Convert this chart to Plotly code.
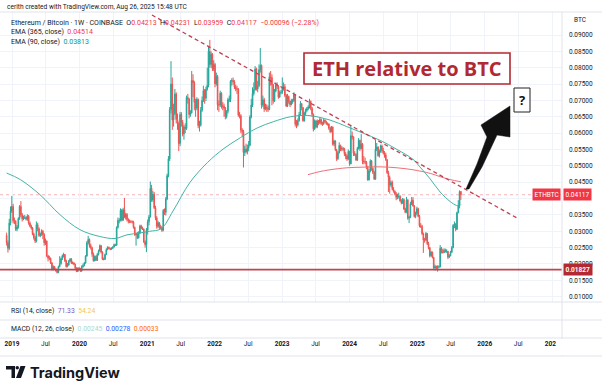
import plotly.graph_objects as go
import pandas as pd

W, H = 602, 385

# ---------------- data (weekly ETH/BTC, units of 1e-5 BTC) ----------------
first_week = "2018-12-03"
first_open = 2870
close = [
    2650, 2480, 3250, 3620, 3760,
    3320, 3300, 3060, 3130, 3390, 3760, 3500, 3380, 3420, 3420, 3370, 3460,
    3250, 3160, 3100, 2920, 2800, 2700, 3200, 3080, 2870, 2900, 3000, 2900, 2650,
    2700, 2250, 2180, 2170, 2030, 1830, 1920, 1840, 1800, 1740, 1920, 2010, 2160, 2250,
    2290, 2100, 1920, 1970, 2090, 2150, 2030, 2030, 1990, 1870, 1770, 1870, 1860,
    1780, 1910, 1950, 2030, 2240, 2650, 2750, 2560, 2500, 2310, 2100, 2230, 2110,
    2290, 2400, 2560, 2360, 2150, 2140, 2290, 2440, 2510, 2480, 2450, 2480, 2520,
    2590, 2570, 3120, 3330, 3330, 3640, 3340, 3660, 3430, 3510, 3360, 3310, 3290,
    3290, 3290, 3120, 2890, 2930, 2800, 2940, 3160, 3100, 3070, 2680, 2590, 3030,
    3290, 3440, 4310, 3960, 4130, 3720, 3410, 3150, 3260, 3120, 3120, 3030, 3640,
    3580, 3990, 4700, 5210, 6720, 7500, 6400, 6600, 7200, 6420, 6290, 5680, 6570,
    6330, 5970, 6190, 6140, 7090, 7040, 6570, 6620, 7610, 7540, 6940, 6760, 7030,
    6230, 6240, 6700, 7000, 7300, 7070, 7340, 7460, 8500, 8100, 8410, 7970, 8100,
    7510, 7730, 6870, 6860, 7220, 6840, 6820, 6760, 6510, 6670, 7020, 7030, 7590,
    7610, 7570, 7410, 7350, 7350, 6550, 6530, 6090, 6050, 5410, 5510, 5430, 5540,
    5630, 6490, 6860, 7210, 7330, 7960, 7350, 7450, 7940, 8070, 6860, 7020, 6740,
    6800, 6770, 6720, 7720, 7700, 7480, 6990, 7290, 7480, 7430, 7100, 7240, 7250,
    7380, 7420, 7150, 6830, 7120, 6970, 6870, 6980, 6990, 7180, 6270, 6250, 6380,
    6570, 6900, 6780, 6380, 6600, 6690, 6750, 6800, 6970, 6760, 6580, 6130, 6370,
    6190, 6370, 6320, 6420, 6290, 6290, 6400, 6350, 6290, 6280, 6150, 6050, 6190,
    5660, 5760, 5490, 5220, 5400, 5620, 5510, 5530, 5510, 5370, 5300, 5210, 5440,
    5060, 5920, 5890, 5380, 5350, 5180, 5530, 5780, 5530, 5660, 5150, 5130, 5110,
    4970, 4570, 4840, 5150, 4920, 4800, 4590, 5510, 5570, 5310, 5440, 5610, 5470,
    5400, 5330, 5190, 4790, 4650, 4410, 4490, 4280, 4220, 4140, 4040, 4070, 4070, 3930,
    3860, 3970, 3680, 3580, 3960, 3400, 3430, 3840, 3950, 3780, 3450, 3550, 3690,
    3460, 3170, 3150, 2930, 2730, 2730, 2930, 2620, 2500, 2250, 2360, 2200, 1880,
    1930, 1870, 1900, 1910, 2480, 2360, 2350, 2420, 2380, 2390, 2210, 2250, 2360,
    2500, 3180, 3210, 3060, 3570, 3800, 4213, 4117,
]
high = [
    2960, 2720, 3380, 3760, 4080,
    3840, 3420, 3340, 3190, 3430, 3800, 3920, 3560, 3480, 3500, 3460, 3520,
    3500, 3300, 3200, 3130, 2960, 2860, 3300, 3260, 3120, 2960, 3060, 3040, 2940,
    2780, 2720, 2280, 2250, 2200, 2060, 1960, 1940, 1870, 1830, 1950, 2240, 2200, 2290,
    2340, 2300, 2130, 2030, 2120, 2180, 2180, 2080, 2060, 2010, 1900, 1900, 1910,
    1880, 1960, 2010, 2060, 2270, 2700, 2860, 2780, 2620, 2530, 2350, 2260, 2260,
    2330, 2440, 2600, 2580, 2390, 2200, 2320, 2480, 2540, 2530, 2500, 2510, 2540,
    2620, 2620, 3150, 3420, 3400, 3700, 3680, 3720, 4020, 3560, 3560, 3400, 3360,
    3340, 3330, 3320, 3140, 2960, 2980, 3000, 3200, 3200, 3140, 3080, 2720, 3100,
    3360, 3500, 4520, 4420, 4230, 4200, 3780, 3460, 3320, 3280, 3200, 3160, 3680,
    3700, 4050, 4760, 5300, 6800, 8200, 7700, 6900, 7350, 7250, 6600, 6350, 6650,
    6640, 6400, 6250, 6300, 7150, 7200, 7080, 6700, 7900, 7800, 7600, 7050, 7100,
    7060, 6380, 6800, 7120, 7450, 7350, 7420, 8000, 8650, 8850, 8500, 8450, 8230,
    8150, 7850, 7780, 7000, 7300, 7250, 6950, 6900, 6800, 6700, 7080, 7150, 7620,
    7680, 7700, 7620, 7480, 7450, 7380, 6650, 6580, 6150, 6100, 5620, 5680, 5650,
    5760, 6550, 7050, 7400, 7550, 8050, 8000, 7600, 8100, 8600, 8100, 7150, 7080,
    6900, 6880, 6850, 7850, 7900, 7800, 7500, 7350, 7550, 7550, 7470, 7300, 7320,
    7700, 7550, 7500, 7200, 7200, 7150, 7000, 7050, 7050, 7250, 7200, 6400, 6450,
    6650, 6980, 6920, 6800, 6650, 6750, 6800, 6850, 7050, 7000, 6800, 6600, 6420,
    6400, 6420, 6400, 6480, 6450, 6350, 6450, 6420, 6380, 6330, 6300, 6200, 6220,
    6200, 5800, 5780, 5520, 5450, 5720, 5650, 5600, 5580, 5550, 5420, 5350, 5500,
    5460, 6250, 6050, 5900, 5450, 5380, 5580, 5850, 5800, 5970, 5700, 5300, 5250,
    5150, 5000, 4900, 5200, 5180, 4950, 4850, 5800, 5700, 5600, 5500, 5650, 5650,
    5550, 5450, 5400, 5200, 4850, 4700, 4550, 4550, 4350, 4250, 4200, 4150, 4180, 4100,
    3980, 4020, 4000, 3720, 4050, 3980, 3480, 3900, 4050, 4040, 3800, 3600, 3750,
    3720, 3500, 3250, 3200, 2960, 2800, 2980, 2950, 2680, 2520, 2400, 2380, 2220,
    1980, 1950, 1960, 1960, 2580, 2520, 2460, 2480, 2470, 2450, 2400, 2300, 2400,
    2550, 3220, 3300, 3250, 3600, 3950, 4250, 4231,
]
low = [
    2560, 2350, 2420, 3180, 3560,
    3240, 3220, 3010, 3000, 3080, 3350, 3440, 3300, 3340, 3370, 3330, 3320,
    3200, 3120, 3050, 2880, 2740, 2640, 2660, 3000, 2830, 2820, 2860, 2760, 2560,
    2580, 2210, 2080, 2120, 2000, 1800, 1800, 1820, 1760, 1710, 1720, 1900, 1980, 2120,
    2200, 2060, 1890, 1900, 1950, 2060, 2000, 1990, 1960, 1850, 1750, 1760, 1830,
    1760, 1770, 1890, 1930, 2010, 2230, 2600, 2500, 2440, 2220, 2070, 2080, 2090,
    2100, 2260, 2380, 2320, 2120, 2110, 2130, 2280, 2420, 2450, 2420, 2430, 2460,
    2500, 2550, 2560, 3080, 3240, 3300, 3300, 3320, 3400, 3360, 3300, 3240, 3250,
    3250, 3240, 3080, 2860, 2560, 2760, 2780, 2920, 3060, 3040, 2640, 2500, 2360,
    2900, 3180, 3420, 3900, 3900, 3680, 3340, 3080, 3100, 3050, 3060, 2980, 3000,
    3500, 3480, 3950, 4650, 5150, 6600, 6100, 6200, 6550, 6300, 6100, 5450, 5600,
    6200, 5900, 5800, 6000, 6100, 6900, 6450, 6500, 6600, 7100, 6700, 6500, 6700,
    6150, 6050, 6200, 6650, 6950, 6900, 6980, 7300, 7400, 8000, 8000, 7900, 7900,
    7400, 7450, 6700, 6650, 6800, 6750, 6700, 6500, 6420, 6450, 6600, 6950, 6950,
    7450, 7480, 7350, 7280, 7200, 6500, 6450, 6000, 5900, 4950, 5300, 5380, 5350,
    5450, 5600, 6450, 6800, 7150, 7300, 7300, 7250, 7400, 7850, 6750, 6800, 6650,
    6700, 6650, 6650, 6700, 7450, 6850, 6900, 6950, 7250, 7350, 7050, 7080, 7180,
    7200, 7300, 7100, 6800, 6800, 6900, 6800, 6850, 6900, 6950, 6200, 6150, 6200,
    6350, 6550, 6700, 6350, 6350, 6550, 6650, 6700, 6750, 6700, 6500, 6050, 6100,
    6150, 6150, 6250, 6280, 6250, 6220, 6250, 6300, 6250, 6230, 6100, 6000, 6020,
    5620, 5600, 5450, 5150, 5180, 5380, 5450, 5450, 5450, 5300, 5200, 5150, 5180,
    5000, 5050, 5800, 5300, 5300, 5150, 5150, 5500, 5450, 5500, 5050, 5050, 5050,
    4900, 4550, 4550, 4800, 4850, 4750, 4580, 4580, 5450, 5280, 5250, 5400, 5400,
    5350, 5250, 5150, 4750, 4200, 4150, 4350, 4250, 4180, 4100, 3950, 3980, 4000, 3900,
    3820, 3840, 3650, 3550, 3550, 3350, 3250, 3400, 3800, 3750, 3420, 3400, 3500,
    3430, 3120, 3100, 2880, 2340, 2650, 2700, 2580, 2450, 2200, 2220, 2170, 1850,
    1800, 1820, 1766, 1870, 1900, 2320, 2320, 2330, 2350, 2340, 2150, 2180, 2240,
    2340, 2480, 3100, 3000, 3040, 3550, 3700, 3959,
]

ema90_dates = ["2018-12-03", "2019-02-15", "2019-06-01", "2019-09-17", "2020-01-03",
               "2020-04-20", "2020-07-11", "2020-09-14", "2020-11-23", "2021-01-15",
               "2021-03-18", "2021-05-21", "2021-08-20", "2021-11-23", "2022-02-20",
               "2022-05-20", "2022-08-20", "2022-11-15", "2023-02-15", "2023-05-20",
               "2023-09-17", "2023-12-17", "2024-03-14", "2024-06-14", "2024-09-14",
               "2024-12-09", "2025-01-15", "2025-03-12", "2025-05-05", "2025-06-28",
               "2025-08-01", "2025-08-18", "2025-08-25"]
ema90_vals = [0.0478, 0.0458, 0.0412, 0.0351, 0.0305,
              0.0284, 0.0278, 0.0289, 0.0295, 0.0300,
              0.0308, 0.0362, 0.0449, 0.0510, 0.0553,
              0.0586, 0.0616, 0.0635, 0.0650, 0.0654,
              0.0640, 0.0620, 0.0600, 0.0578, 0.0550,
              0.0520, 0.0497, 0.0460, 0.0420, 0.0391,
              0.0379, 0.0378, 0.03813]
ema365_dates = ["2023-05-21", "2023-07-20", "2023-09-17", "2023-12-17", "2024-03-14",
                "2024-06-14", "2024-09-14", "2024-12-09", "2025-03-12", "2025-05-05",
                "2025-06-28", "2025-08-25"]
ema365_vals = [0.0473, 0.0482, 0.0488, 0.0494, 0.0496,
               0.0497, 0.0494, 0.0488, 0.0477, 0.0467,
               0.0458, 0.04514]

support_level = 0.01827
last_price = 0.04117
trend_dates = ["2021-01-27", "2026-06-25"]
trend_prices = [0.09611, 0.03405]

price_ticks = [0.010, 0.015, 0.020, 0.025, 0.030, 0.035, 0.040, 0.045, 0.050,
               0.055, 0.060, 0.065, 0.070, 0.075, 0.080, 0.085, 0.090]
price_labels = ["0.01000", "0.01500", "0.02000", "0.02500", "0.03000", "0.03500", "",
                "0.04500", "0.05000", "0.05500", "0.06000", "0.06500", "0.07000",
                "0.07500", "0.08000", "0.08500", "0.09000"]
time_ticks = ["2019-01-01", "2019-07-01", "2020-01-01", "2020-07-01", "2021-01-01",
              "2021-07-01", "2022-01-01", "2022-07-01", "2023-01-01", "2023-07-01",
              "2024-01-01", "2024-07-01", "2025-01-01", "2025-07-01", "2026-01-01",
              "2026-07-01", "2027-01-01"]
time_labels = ["<b>2019</b>", "Jul", "<b>2020</b>", "Jul", "<b>2021</b>", "Jul",
               "<b>2022</b>", "Jul", "<b>2023</b>", "Jul", "<b>2024</b>", "Jul",
               "<b>2025</b>", "Jul", "<b>2026</b>", "Jul", "<b>2027</b>"]

# ---------------- styling ----------------
FONT = "Roboto"
TXT = "#131722"
UP, DN = "#26a69a", "#ef5350"
RED = "#f23645"
DARKRED = "#b22833"
GRID = "#f0f3fa"
SEP = "#e0e3eb"
AXIS_X = 562  # px where the price scale starts


def px(x):
    return x / W


def py(y):
    return 1 - y / H


assert len(close) == len(high) == len(low), (len(close), len(high), len(low))
scale = 1e-5
dates = pd.date_range(first_week, periods=len(close), freq="7D")
c = [v * scale for v in close]
o = [first_open * scale] + c[:-1]
h = [max(v * scale, a, b) for v, a, b in zip(high, o, c)]
l = [min(v * scale, a, b) for v, a, b in zip(low, o, c)]

fig = go.Figure()
fig.add_trace(go.Candlestick(
    x=dates, open=o, high=h, low=l, close=c,
    increasing=dict(line=dict(color=UP, width=1), fillcolor=UP),
    decreasing=dict(line=dict(color=DN, width=1), fillcolor=DN),
    whiskerwidth=0, showlegend=False, hoverinfo="skip"))
fig.add_trace(go.Scatter(x=ema365_dates, y=ema365_vals, mode="lines",
                         line=dict(color="#ef6f78", width=1, shape="spline"),
                         hoverinfo="skip", showlegend=False))
fig.add_trace(go.Scatter(x=ema90_dates, y=ema90_vals, mode="lines",
                         line=dict(color="#45b3a3", width=1, shape="spline"),
                         hoverinfo="skip", showlegend=False))

# y mapping: 0.09 at py 35, 0.01 at py 296.7
ppu = (296.7 - 35) / 0.08
y_hi = 0.09 + (35 - 12) / ppu
y_lo = 0.09 - (302 - 35) / ppu

fig.update_layout(
    width=W, height=H, margin=dict(l=0, r=0, t=0, b=0, autoexpand=False),
    paper_bgcolor="white", plot_bgcolor="white", showlegend=False,
    font=dict(family=FONT, color=TXT),
    xaxis=dict(type="date", domain=[0, px(AXIS_X)],
               range=["2018-10-28", "2027-02-23"],
               anchor="free", position=py(338),
               tickvals=time_ticks, ticktext=time_labels,
               tickfont=dict(size=6.5, color=TXT, family=FONT),
               showgrid=True, gridcolor=GRID, gridwidth=1,
               showline=False, zeroline=False, ticks="",
               rangeslider=dict(visible=False), fixedrange=True),
    yaxis=dict(domain=[py(302), py(12)], range=[y_lo, y_hi], side="right",
               tickvals=price_ticks, ticktext=price_labels,
               tickfont=dict(size=6.5, color=TXT, family=FONT),
               showgrid=True, gridcolor=GRID, gridwidth=1,
               showline=False, zeroline=False, ticks="",
               ticklabelstandoff=6, fixedrange=True),
)

shapes = []
# horizontal lines
shapes.append(dict(type="line", xref="x domain", x0=0, x1=1, yref="y",
                   y0=last_price, y1=last_price,
                   line=dict(color="#f6b3b8", width=1, dash="dot"), layer="below"))
shapes.append(dict(type="line", xref="x domain", x0=0, x1=1, yref="y",
                   y0=support_level, y1=support_level,
                   line=dict(color="#bd4650", width=1.6)))
# trend line
shapes.append(dict(type="line", xref="x", yref="y",
                   x0=trend_dates[0], x1=trend_dates[1],
                   y0=trend_prices[0], y1=trend_prices[1],
                   line=dict(color="#c0404f", width=1.3, dash="4px,3px")))
# pane separators and price scale border
for yy in (12, 302, 320, 338, 356):
    shapes.append(dict(type="line", xref="paper", yref="paper", x0=0, x1=1,
                       y0=py(yy), y1=py(yy), line=dict(color=SEP, width=1)))
shapes.append(dict(type="line", xref="paper", yref="paper", x0=px(AXIS_X), x1=px(AXIS_X),
                   y0=py(12), y1=py(356), line=dict(color=SEP, width=1)))
# clip area right of the price scale for time labels
shapes.append(dict(type="rect", xref="paper", yref="paper", x0=px(556), x1=1,
                   y0=py(355), y1=py(339), fillcolor="white", line=dict(width=0),
                   layer="above"))
# title box
shapes.append(dict(type="rect", xref="paper", yref="paper", x0=px(304), x1=px(510),
                   y0=py(53), y1=py(84), fillcolor="white",
                   line=dict(color=DARKRED, width=1.6), layer="above"))
# question box
shapes.append(dict(type="rect", xref="paper", yref="paper", x0=px(514), x1=px(530),
                   y0=py(88), y1=py(112), fillcolor="white",
                   line=dict(color="#222222", width=1), layer="above"))
# black arrow
arrow_pts = [(466, 189), (477, 164), (487, 137), (481, 125), (510, 106),
             (510, 137), (497, 135), (482, 167), (469, 189)]
path = "M " + " L ".join(f"{px(x):.5f},{py(y):.5f}" for x, y in arrow_pts) + " Z"
shapes.append(dict(type="path", xref="paper", yref="paper", path=path,
                   fillcolor="#111111", line=dict(color="#111111", width=0.5),
                   layer="above"))
# TradingView logo glyph
shapes.append(dict(type="path", xref="paper", yref="paper",
                   path="M {a},{b} L {c},{b} L {c},{d} L {e},{d} L {e},{f} L {a},{f} Z".format(
                       a=px(6), b=py(366), c=px(15), d=py(378), e=px(11.5), f=py(369.5)),
                   fillcolor="#131722", line=dict(width=0), layer="above"))
shapes.append(dict(type="circle", xref="paper", yref="paper", x0=px(15.5), x1=px(19),
                   y0=py(366), y1=py(369.5), fillcolor="#131722", line=dict(width=0)))
shapes.append(dict(type="path", xref="paper", yref="paper",
                   path=f"M {px(20.5)},{py(366)} L {px(25.5)},{py(366)} L {px(21)},{py(378)} L {px(16)},{py(378)} Z",
                   fillcolor="#131722", line=dict(width=0), layer="above"))
fig.update_layout(shapes=shapes)

ann = []


def txt(x, y, text, size=6.5, color=TXT, anchor="left", **kw):
    ann.append(dict(xref="paper", yref="paper", x=px(x), y=py(y), text=text,
                    showarrow=False, xanchor=anchor, yanchor="middle",
                    font=dict(size=size, color=color, family=kw.pop("family", FONT)), **kw))


def col(t, cl):
    return f'<span style="color:{cl}">{t}</span>'


txt(5, 7, "cerith created with TradingView.com, Aug 26, 2025 15:48 UTC", size=6.6)
txt(9, 23, "Ethereum / Bitcoin · 1W · COINBASE  O" + col("0.04213", RED) + "  H" +
    col("0.04231", RED) + "  L" + col("0.03959", RED) + "  C" + col("0.04117", RED) +
    "  " + col("−0.00096 (−2.28%)", RED), size=7)
txt(9, 32.5, "EMA (365, close)  " + col("0.04514", RED), size=7)
txt(9, 42, "EMA (90, close)  " + col("0.03813", "#089981"), size=7)
txt(9, 311, "RSI (14, close)  " + col("71.33", "#7e57c2") + "  " + col("54.24", "#f2c94c"), size=6.8)
txt(9, 329, "MACD (12, 26, close)  " + col("0.00245", "#a8d8d0") + "  " +
    col("0.00278", "#2962ff") + "  " + col("0.00033", "#ff6d00"), size=6.8)
txt(572, 20, "BTC", size=6.5)

# price tags
ann.append(dict(xref="paper", yref="y", x=px(AXIS_X + 1), y=last_price, text="0.04117",
                showarrow=False, xanchor="left", yanchor="middle", bgcolor=RED,
                font=dict(size=6.5, color="white", family=FONT), borderpad=1.5))
ann.append(dict(xref="paper", yref="y", x=px(AXIS_X - 1), y=last_price, text="ETHBTC",
                showarrow=False, xanchor="right", yanchor="middle", bgcolor=RED,
                font=dict(size=6.5, color="white", family=FONT), borderpad=1.5))
ann.append(dict(xref="paper", yref="y", x=px(AXIS_X + 1), y=support_level, text="<b>0.01827</b>",
                showarrow=False, xanchor="left", yanchor="middle", bgcolor=DARKRED,
                font=dict(size=6.5, color="white", family=FONT), borderpad=1.5))

# chart annotations
txt(407, 69, "<b>ETH relative to BTC</b>", size=20, color=DARKRED, anchor="center", family="Open Sans")
txt(522, 100, "<b>?</b>", size=13, color="#111111", anchor="center", family="Open Sans")
txt(28, 372, "<b>TradingView</b>", size=14.5, color="#131722", family="Inter")

fig.update_layout(annotations=ann)
fig.write_html("out.html",
               config={"displayModeBar": False, "staticPlot": True},
               post_script="document.body.style.margin='0px';document.body.style.overflow='hidden';")
